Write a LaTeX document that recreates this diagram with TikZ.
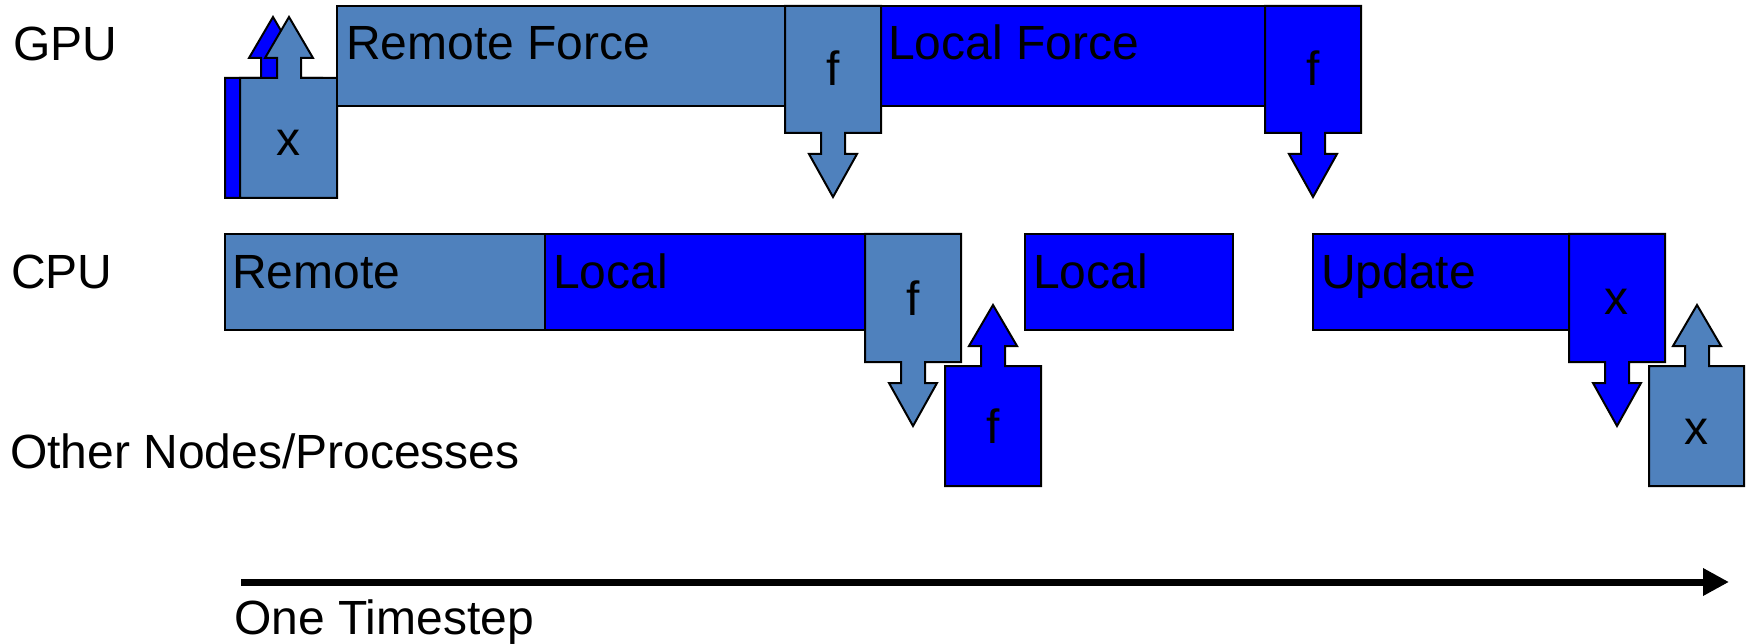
\documentclass[tikz,border=0pt]{standalone}
\usepackage{fontspec}
\setmainfont{Liberation Sans}
\usetikzlibrary{arrows.meta}
\definecolor{steel}{HTML}{4F81BD}
\definecolor{pureblue}{HTML}{0000FF}
\newcommand\mkup[6]{% style, L, R, T, B, cx
  \draw[#1] (#2,#5) -- (#2,#4) -- ({#6-12},#4) -- ({#6-12},{#4-20}) -- ({#6-24},{#4-20})
    -- (#6,{#4-61}) -- ({#6+24},{#4-20}) -- ({#6+12},{#4-20}) -- ({#6+12},#4)
    -- (#3,#4) -- (#3,#5) -- cycle;}
\newcommand\mkdown[6]{% style, L, R, T, B, cx
  \draw[#1] (#2,#4) -- (#2,#5) -- ({#6-12},#5) -- ({#6-12},{#5+21}) -- ({#6-24},{#5+21})
    -- (#6,{#5+64}) -- ({#6+24},{#5+21}) -- ({#6+12},{#5+21}) -- ({#6+12},#5)
    -- (#3,#5) -- (#3,#4) -- cycle;}
\begin{document}
\begin{tikzpicture}[x=1pt,y=-1pt,
  sbox/.style={fill=steel,draw=black,line width=2pt,line join=miter},
  bbox/.style={fill=pureblue,draw=black,line width=2pt,line join=miter},
  lbl/.style={inner sep=0pt,font=\fontsize{48}{58}\selectfont,text=black}]
\useasboundingbox (0,0) rectangle (1748,644);
% GPU row
\mkup{bbox}{225}{322}{78}{198}{273}
\mkup{sbox}{240}{337}{78}{198}{289}
\draw[sbox] (337,6) rectangle (785,106);
\draw[bbox] (881,6) rectangle (1265,106);
\mkdown{sbox}{785}{881}{6}{133}{833}
\mkdown{bbox}{1265}{1361}{6}{133}{1313}
% CPU row
\draw[sbox] (225,234) rectangle (545,330);
\draw[bbox] (545,234) rectangle (865,330);
\mkdown{sbox}{865}{961}{234}{362}{913}
\draw[bbox] (1025,234) rectangle (1233,330);
\draw[bbox] (1313,234) rectangle (1569,330);
\mkdown{bbox}{1569}{1665}{234}{362}{1617}
% Other nodes row
\mkup{bbox}{945}{1041}{366}{486}{993}
\mkup{sbox}{1649}{1744}{366}{486}{1697}
% timeline
\coordinate (ts) at (241,582);
\coordinate (te) at (1729,582);
\draw[line width=7pt,-{Triangle[length=26pt,width=26pt]}] (ts) -- (te);
% labels
\node[lbl,anchor=base west] (gpu) at (13,61) {GPU};
\node[lbl,anchor=base west] (cpu) at (11,289) {CPU};
\node[lbl,anchor=base west] (other) at (10,468) {Other Nodes/Processes};
\node[lbl,anchor=base west] (step) at (234,634) {One Timestep};
\node[lbl,anchor=base west] (rf) at (346,60) {Remote Force};
\node[lbl,anchor=base west] (lf) at (888,60) {Local Force};
\node[lbl,anchor=base west] (rem) at (232,289) {Remote};
\node[lbl,anchor=base west] (loc1) at (553,289) {Local};
\node[lbl,anchor=base west] (loc2) at (1033,289) {Local};
\node[lbl,anchor=base west] (upd) at (1321,289) {Update};
\node[lbl,anchor=base] (x1) at (288,156) {x};
\node[lbl,anchor=base] (f1) at (833,86) {f};
\node[lbl,anchor=base] (f2) at (1313,86) {f};
\node[lbl,anchor=base] (f3) at (913,316) {f};
\node[lbl,anchor=base] (f4) at (993,443) {f};
\node[lbl,anchor=base] (x2) at (1616,315) {x};
\node[lbl,anchor=base] (x3) at (1696,444) {x};
\end{tikzpicture}
\end{document}
